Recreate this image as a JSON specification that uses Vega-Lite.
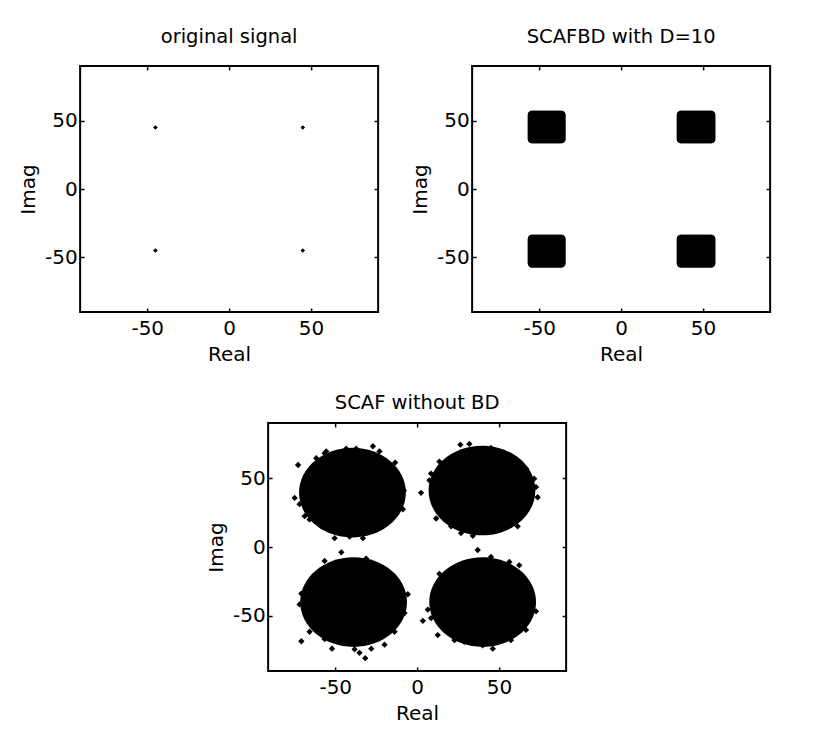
{
  "$schema": "https://vega.github.io/schema/vega-lite/v6.json",
  "background": "white",
  "padding": {"left": 17, "top": 25, "right": 0, "bottom": 0},
  "datasets": {
    "orig": [
      {"re": -45, "im": 45}, {"re": 45, "im": 45}, {"re": -45, "im": -45}, {"re": 45, "im": -45}
    ],
    "bd": [
      {"re1": -57, "re2": -34, "im1": 33.5, "im2": 57.2},
      {"re1": 34, "re2": 57.5, "im1": 33.5, "im2": 57.2},
      {"re1": -57, "re2": -34, "im1": -57.5, "im2": -33.5},
      {"re1": 34, "re2": 57.5, "im1": -57.5, "im2": -33.5}
    ],
    "centers": [
      {"re": -39.5, "im": 39.5}, {"re": 39.6, "im": 41}, {"re": -38.8, "im": -40}, {"re": 40, "im": -40}
    ],
    "outliers": [
      {"re": -72.7, "im": 59.5}, {"re": -74.8, "im": 35.6}, {"re": -27.0, "im": 73.1}, {"re": -23.0, "im": 69.4},
      {"re": -13.4, "im": 61.3}, {"re": -8.1, "im": 41.0}, {"re": -8.7, "im": 27.4}, {"re": -50.4, "im": 6.4},
      {"re": -58.5, "im": 15.0}, {"re": -33.1, "im": 6.4}, {"re": -56.5, "im": 68.1}, {"re": -43.3, "im": 71.3},
      {"re": -68.7, "im": 22.4}, {"re": -71.8, "im": 31.1}, {"re": -61.6, "im": 64.4},
      {"re": -55.5, "im": 69.4}, {"re": -37.2, "im": 71.3}, {"re": -67.7, "im": 52.1}, {"re": -69.7, "im": 41.0},
      {"re": -11.8, "im": 52.1}, {"re": -10.8, "im": 34.8}, {"re": -41.3, "im": 7.6}, {"re": -65.7, "im": 20.0},
      {"re": 2.4, "im": 39.3}, {"re": 26.4, "im": 74.3}, {"re": 31.9, "im": 74.8}, {"re": 13.6, "im": 62.0},
      {"re": 8.5, "im": 53.3}, {"re": 7.5, "im": 48.4}, {"re": 11.6, "im": 20.7}, {"re": 20.7, "im": 15.0},
      {"re": 26.8, "im": 10.1}, {"re": 34.0, "im": 8.1}, {"re": 45.1, "im": 71.9}, {"re": 59.3, "im": 62.0},
      {"re": 66.5, "im": 57.0}, {"re": 71.5, "im": 49.6}, {"re": 72.6, "im": 43.5}, {"re": 73.6, "im": 36.1},
      {"re": 61.4, "im": 15.0},
      {"re": -46.3, "im": -3.9}, {"re": -56.5, "im": -10.1}, {"re": -31.1, "im": -8.4}, {"re": -70.7, "im": -33.8},
      {"re": -71.8, "im": -41.7}, {"re": -5.7, "im": -34.3}, {"re": -7.7, "im": -47.9}, {"re": -70.7, "im": -68.4},
      {"re": -65.7, "im": -61.5}, {"re": -56.5, "im": -66.9}, {"re": -52.0, "im": -73.8}, {"re": -38.2, "im": -74.3},
      {"re": -35.2, "im": -76.8}, {"re": -31.7, "im": -80.7}, {"re": -19.9, "im": -70.9}, {"re": -13.8, "im": -61.5},
      {"re": -28.0, "im": -73.8},
      {"re": 37.0, "im": -2.2}, {"re": 45.1, "im": -7.2}, {"re": 56.3, "im": -10.9}, {"re": 13.6, "im": -19.5},
      {"re": 3.5, "im": -53.6}, {"re": 8.5, "im": -51.6}, {"re": 6.5, "im": -45.4}, {"re": 12.6, "im": -63.9},
      {"re": 22.8, "im": -67.6}, {"re": 28.8, "im": -68.9}, {"re": 40.0, "im": -71.4}, {"re": 46.2, "im": -73.8},
      {"re": 57.3, "im": -67.6}, {"re": 66.5, "im": -60.2}, {"re": 72.6, "im": -46.7}, {"re": 69.5, "im": -31.9},
      {"re": 62.4, "im": -13.3}
    ]
  },
  "vconcat": [
    {
      "hconcat": [
        {
          "width": 298, "height": 246,
          "title": {"text": "original signal", "offset": 18},
          "data": {"name": "orig"},
          "layer": [
            {
              "mark": {"type": "point", "shape": "diamond", "filled": true, "color": "black", "opacity": 1, "size": 18},
              "encoding": {
                "x": {"field": "re", "type": "quantitative", "scale": {"domain": [-91, 91], "nice": false, "zero": false}, "axis": {"values": [-50, 0, 50], "title": "Real"}},
                "y": {"field": "im", "type": "quantitative", "scale": {"domain": [-90, 90], "nice": false, "zero": false}, "axis": {"values": [-50, 0, 50], "title": "Imag"}}
              }
            },
            {
              "mark": {"type": "point", "shape": "diamond", "filled": true, "color": "black", "opacity": 1, "size": 18},
              "encoding": {
                "x": {"field": "re", "type": "quantitative", "scale": {"domain": [-91, 91], "nice": false, "zero": false}, "axis": {"orient": "top", "values": [-50, 0, 50], "labels": false, "title": null}},
                "y": {"field": "im", "type": "quantitative", "scale": {"domain": [-90, 90], "nice": false, "zero": false}, "axis": {"orient": "right", "values": [-50, 0, 50], "labels": false, "title": null}}
              }
            }
          ],
          "resolve": {"axis": {"x": "independent", "y": "independent"}}
        },
        {
          "width": 298, "height": 246,
          "title": {"text": "SCAFBD with D=10", "offset": 18},
          "data": {"name": "bd"},
          "layer": [
            {
              "mark": {"type": "rect", "color": "black", "cornerRadius": 4},
              "encoding": {
                "x": {"field": "re1", "type": "quantitative", "scale": {"domain": [-91, 91], "nice": false, "zero": false}, "axis": {"values": [-50, 0, 50], "title": "Real"}},
                "x2": {"field": "re2"},
                "y": {"field": "im1", "type": "quantitative", "scale": {"domain": [-90, 90], "nice": false, "zero": false}, "axis": {"values": [-50, 0, 50], "title": "Imag"}},
                "y2": {"field": "im2"}
              }
            },
            {
              "mark": {"type": "rect", "color": "black", "cornerRadius": 4},
              "encoding": {
                "x": {"field": "re1", "type": "quantitative", "scale": {"domain": [-91, 91], "nice": false, "zero": false}, "axis": {"orient": "top", "values": [-50, 0, 50], "labels": false, "title": null}},
                "x2": {"field": "re2"},
                "y": {"field": "im1", "type": "quantitative", "scale": {"domain": [-90, 90], "nice": false, "zero": false}, "axis": {"orient": "right", "values": [-50, 0, 50], "labels": false, "title": null}},
                "y2": {"field": "im2"}
              }
            }
          ],
          "resolve": {"axis": {"x": "independent", "y": "independent"}}
        }
      ],
      "spacing": 29
    },
    {
      "width": 298, "height": 248,
      "title": {"text": "SCAF without BD", "offset": 9},
      "layer": [
        {
          "data": {"name": "centers"},
          "mark": {"type": "point", "shape": "M -1 0 A 1 0.84 0 1 1 1 0 A 1 0.84 0 1 1 -1 0 Z", "filled": true, "color": "black", "opacity": 1, "size": 11400},
          "encoding": {
            "x": {"field": "re", "type": "quantitative", "scale": {"domain": [-91, 91], "nice": false, "zero": false}, "axis": {"values": [-50, 0, 50], "title": "Real"}},
            "y": {"field": "im", "type": "quantitative", "scale": {"domain": [-90, 90], "nice": false, "zero": false}, "axis": {"values": [-50, 0, 50], "title": "Imag"}}
          }
        },
        {
          "data": {"name": "outliers"},
          "mark": {"type": "point", "shape": "diamond", "filled": true, "color": "black", "opacity": 1, "size": 40},
          "encoding": {
            "x": {"field": "re", "type": "quantitative", "scale": {"domain": [-91, 91], "nice": false, "zero": false}, "axis": {"orient": "top", "values": [-50, 0, 50], "labels": false, "title": null}},
            "y": {"field": "im", "type": "quantitative", "scale": {"domain": [-90, 90], "nice": false, "zero": false}, "axis": {"orient": "right", "values": [-50, 0, 50], "labels": false, "title": " ", "titleFontSize": 8, "titlePadding": 8}}
          }
        }
      ],
      "resolve": {"axis": {"x": "independent", "y": "independent"}}
    }
  ],
  "spacing": 26,
  "center": true,
  "config": {
    "view": {"stroke": "black", "strokeWidth": 2},
    "axis": {
      "domain": false, "grid": false,
      "tickColor": "black", "tickSize": -4, "tickWidth": 1.5,
      "labelExpr": "datum.value < 0 ? '-' + abs(datum.value) : '' + datum.value",
      "labelFont": "DejaVu Sans", "labelFontSize": 20, "labelColor": "black", "labelPadding": 7,
      "titleFont": "DejaVu Sans", "titleFontSize": 20, "titleFontWeight": "normal", "titleColor": "black", "titlePadding": 6
    },
    "axisX": {"labelPadding": 10},
    "title": {"font": "DejaVu Sans", "fontSize": 19.5, "fontWeight": "normal", "color": "black"}
  }
}
